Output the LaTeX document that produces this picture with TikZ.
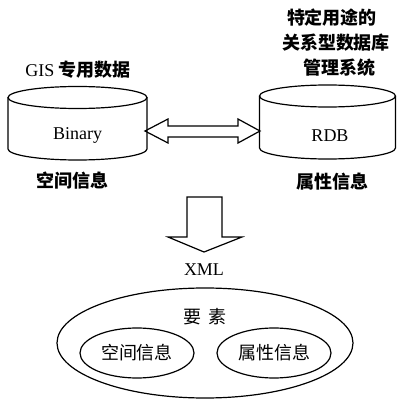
\documentclass[tikz,border=0pt]{standalone}
\usepackage{fontspec}
\setmainfont{Liberation Serif}
\newfontfamily\cjk{Noto Sans CJK SC}
\usetikzlibrary{shapes.geometric}
\begin{document}
\begin{tikzpicture}[x=1pt,y=1pt,
  line width=1.2pt,
  lbl/.style={inner sep=0pt, font=\fontsize{18}{20}\selectfont\cjk},
  blbl/.style={inner sep=0pt, font=\fontsize{18}{20}\selectfont\cjk\bfseries},
  lat/.style={inner sep=0pt, font=\fontsize{18}{20}\selectfont},
  bigarrow/.style={draw, line width=1.2pt, line join=miter}]
\useasboundingbox (0,0) rectangle (397,400);
% left cylinder
\draw (77.5,302.5) ellipse [x radius=69.5pt, y radius=11pt];
\draw (8,302.5) -- (8,251) arc[start angle=180, end angle=360, x radius=69.5pt, y radius=11pt] -- (147,302.5);
% right cylinder
\draw (327.5,304) ellipse [x radius=68pt, y radius=11pt];
\draw (259.5,304) -- (259.5,252) arc[start angle=180, end angle=360, x radius=68pt, y radius=11pt] -- (395.5,304);
\node[lat] (bin) at (77.5,265) {Binary};
\node[lat] (rdb) at (330,264) {RDB};
\coordinate (L) at (145,269);
\coordinate (R) at (260,269);
% double arrow
\draw[bigarrow] (L) -- (168,281) -- (168,274) -- (238,274) -- (238,281) -- (R)
  -- (238,257) -- (238,263) -- (168,263) -- (168,257) -- cycle;
% labels
\node[blbl] (gis) at (78,330) {{\fontsize{18}{20}\selectfont\rmfamily\mdseries GIS} 专用数据};
\node[blbl] (t1) at (332,382) {特定用途的};
\node[blbl] (t2) at (336,357) {关系型数据库};
\node[blbl] (t3) at (339,332) {管理系统};
\node[blbl] (kj) at (73,219) {空间信息};
\node[blbl] (sx) at (332,218) {属性信息};
% down arrow
\coordinate (tip) at (204,148);
\draw[bigarrow] (187,203) -- (222,203) -- (222,163) -- (242,163) -- (tip) -- (168,163) -- (187,163) -- cycle;
\node[lat] (xml) at (204,130) {XML};
% ellipses
\node[draw, ellipse, minimum width=296pt, minimum height=110pt, inner sep=0pt] (big) at (205,57) {};
\node[lbl] (ys) at (205,83) {要\hspace{0.4em}素};
\node[draw, ellipse, minimum width=114pt, minimum height=50pt, inner sep=0pt, lbl] (in1) at (137,47) {空间信息};
\node[draw, ellipse, minimum width=114pt, minimum height=50pt, inner sep=0pt, lbl] (in2) at (274,47) {属性信息};
\end{tikzpicture}
\end{document}
